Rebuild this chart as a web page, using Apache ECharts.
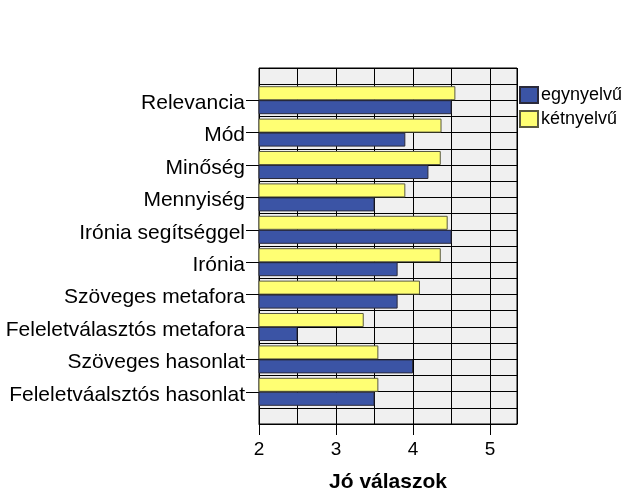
<!DOCTYPE html>
<html>
<head>
<meta charset="utf-8">
<script src="https://cdn.jsdelivr.net/npm/echarts@6/dist/echarts.min.js"></script>
<style>
  html, body { margin: 0; padding: 0; background: #fff; }
  #chart { width: 626px; height: 501px; }
</style>
</head>
<body>
<div id="chart"></div>
<script>
  var categories = [
    "Relevancia",
    "Mód",
    "Minőség",
    "Mennyiség",
    "Irónia segítséggel",
    "Irónia",
    "Szöveges metafora",
    "Feleletválasztós metafora",
    "Szöveges hasonlat",
    "Feleletváalsztós hasonlat"
  ];
  var egynyelvu = [4.5, 3.9, 4.2, 3.5, 4.5, 3.8, 3.8, 2.5, 4.0, 3.5];
  var ketnyelvu = [4.55, 4.37, 4.36, 3.9, 4.45, 4.36, 4.09, 3.36, 3.55, 3.55];
  var xTicks = [2, 3, 4, 5];

  var font = "'Liberation Sans', Arial, sans-serif";
  var chart = echarts.init(document.getElementById("chart"));

  chart.setOption({
    animation: false,
    backgroundColor: "#fff",
    textStyle: { fontFamily: font },
    legend: {
      orient: "vertical",
      left: 519,
      top: 86,
      padding: 0,
      itemWidth: 18,
      itemHeight: 16,
      itemGap: 6,
      icon: "rect",
      data: ["egynyelvű", "kétnyelvű"],
      textStyle: { fontSize: 18, color: "#000", fontFamily: font, padding: [0, 0, 0, -2] }
    },
    grid: [
      // background panel with the grid lines
      { left: 259, right: 109, top: 68, bottom: 77, show: true,
        backgroundColor: "#f0f0f0", borderColor: "#000", borderWidth: 1 },
      // the bars sit half a band inside the panel
      { left: 259, right: 109, top: 84, bottom: 93 }
    ],
    xAxis: [
      {
        gridIndex: 0, type: "value", min: 2, max: 5.35, interval: 0.5,
        axisLine: { show: false }, axisTick: { show: false }, axisLabel: { show: false },
        splitLine: { show: true, lineStyle: { color: "#000", width: 1 } }
      },
      {
        gridIndex: 1, type: "value", min: 2, max: 5.35, position: "bottom", offset: 16,
        axisLine: { show: true, lineStyle: { color: "#000", width: 1 } },
        axisTick: { show: true, length: 11, customValues: xTicks, lineStyle: { color: "#000" } },
        axisLabel: { customValues: xTicks, fontSize: 19, color: "#000", margin: 16, fontFamily: font },
        splitLine: { show: false },
        name: "Jó válaszok", nameLocation: "middle", nameGap: 48,
        nameTextStyle: { fontSize: 21, fontWeight: "bold", color: "#000", fontFamily: font }
      }
    ],
    yAxis: [
      {
        gridIndex: 0, type: "value", min: 0, max: 22, interval: 1,
        axisLine: { show: false }, axisTick: { show: false }, axisLabel: { show: false },
        splitLine: { show: true, lineStyle: { color: "#000", width: 1 } }
      },
      {
        gridIndex: 1, type: "category", inverse: true, data: categories,
        axisLine: { show: true, lineStyle: { color: "#000", width: 1 } },
        axisTick: { show: true, alignWithLabel: true, length: 13, lineStyle: { color: "#000" } },
        axisLabel: {
          margin: 14,
          formatter: function (v) { return "{c|" + v + "}"; },
          rich: { c: { fontSize: 21, color: "#000", fontFamily: font, padding: [6, 0, 0, 0] } }
        },
        splitLine: { show: false }
      }
    ],
    series: [
      {
        name: "kétnyelvű", type: "bar", xAxisIndex: 1, yAxisIndex: 1,
        barWidth: 14, barGap: "0%", data: ketnyelvu,
        itemStyle: { color: "#ffff73", borderColor: "#5a5a40", borderWidth: 1 }
      },
      {
        name: "egynyelvű", type: "bar", xAxisIndex: 1, yAxisIndex: 1,
        barWidth: 14, barGap: "0%", data: egynyelvu,
        itemStyle: { color: "#3b54a5", borderColor: "#2a2a3a", borderWidth: 1 }
      }
    ]
  });
</script>
</body>
</html>
